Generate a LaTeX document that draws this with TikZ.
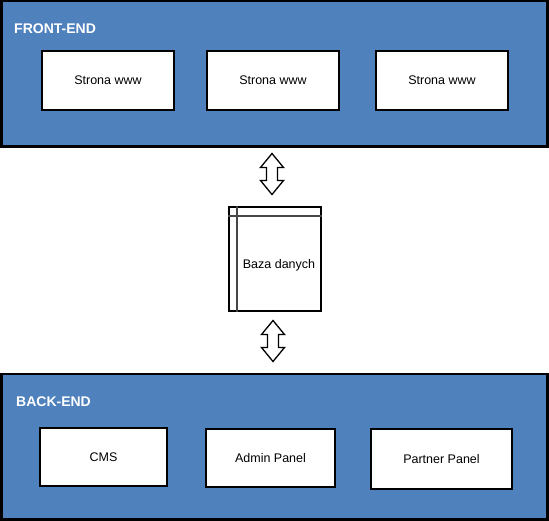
\documentclass[tikz,border=0pt]{standalone}
\usepackage{fontspec}
\setmainfont{Liberation Sans}
\usepackage{xcolor}
\definecolor{panelblue}{RGB}{79,129,189}
\definecolor{dbline}{RGB}{70,70,70}

\tikzset{
	panel/.style={draw=black,line width=2.5pt,fill=panelblue},
	paneltitle/.style={anchor=base west,text=white,inner sep=0pt,font=\bfseries\fontsize{14}{16}\selectfont},
	pagebox/.style={draw=black,line width=2pt,fill=white,inner sep=0pt,font=\fontsize{12.5}{14}\selectfont},
	dbarrow/.style={draw=black,line width=1.3pt,fill=white,line join=miter}
}
\newcommand{\bigarrow}{(0,-20.5) -- (11.5,-6.5) -- (5.5,-6.5) -- (5.5,6.5) -- (11.5,6.5) -- (0,20.5)
	-- (-11.5,6.5) -- (-5.5,6.5) -- (-5.5,-6.5) -- (-11.5,-6.5) -- cycle}

\begin{document}
\begin{tikzpicture}[x=1pt,y=-1pt]
\useasboundingbox (0,0) rectangle (549,521);
% the two panels
\draw[panel] (1.25,1.25) rectangle (547.5,146.5);
\draw[panel] (1.25,374) rectangle (547.5,519.5);
\draw (14,34) node[paneltitle] (front) {FRONT-END};
\draw (16,406) node[paneltitle] (back) {BACK-END};
\coordinate (A) at (108,80.5);
\coordinate (B) at (273,80.5);
\coordinate (C) at (442,80.5);
\coordinate (D) at (103.5,457);
\coordinate (E) at (270.5,458);
\coordinate (F) at (441.5,459);
\draw (A) node[pagebox,minimum width=132pt,minimum height=59pt] (www1) {Strona www};
\draw (B) node[pagebox,minimum width=132pt,minimum height=59pt] (www2) {Strona www};
\draw (C) node[pagebox,minimum width=132pt,minimum height=59pt] (www3) {Strona www};
\draw (D) node[pagebox,minimum width=127pt,minimum height=58pt] (cms) {CMS};
\draw (E) node[pagebox,minimum width=129pt,minimum height=58pt] (admin) {Admin Panel};
\draw (F) node[pagebox,minimum width=141pt,minimum height=60pt] (partner) {Partner Panel};
% database
\draw (275,259) node[pagebox,minimum width=92pt,minimum height=104pt] (db) {};
\draw[dbline,line width=1.5pt] ([yshift=-10pt]db.north west) -- ([yshift=-10pt]db.north east);
\draw[dbline,line width=1.5pt] ([xshift=9pt]db.north west) -- ([xshift=9pt]db.south west);
\draw (279,265) node[font=\fontsize{12.5}{14}\selectfont] (dbtext) {Baza danych};
% arrows
\draw[dbarrow,shift={(272,174)}] \bigarrow;
\draw[dbarrow,shift={(273,341)}] \bigarrow;
\end{tikzpicture}
\end{document}
